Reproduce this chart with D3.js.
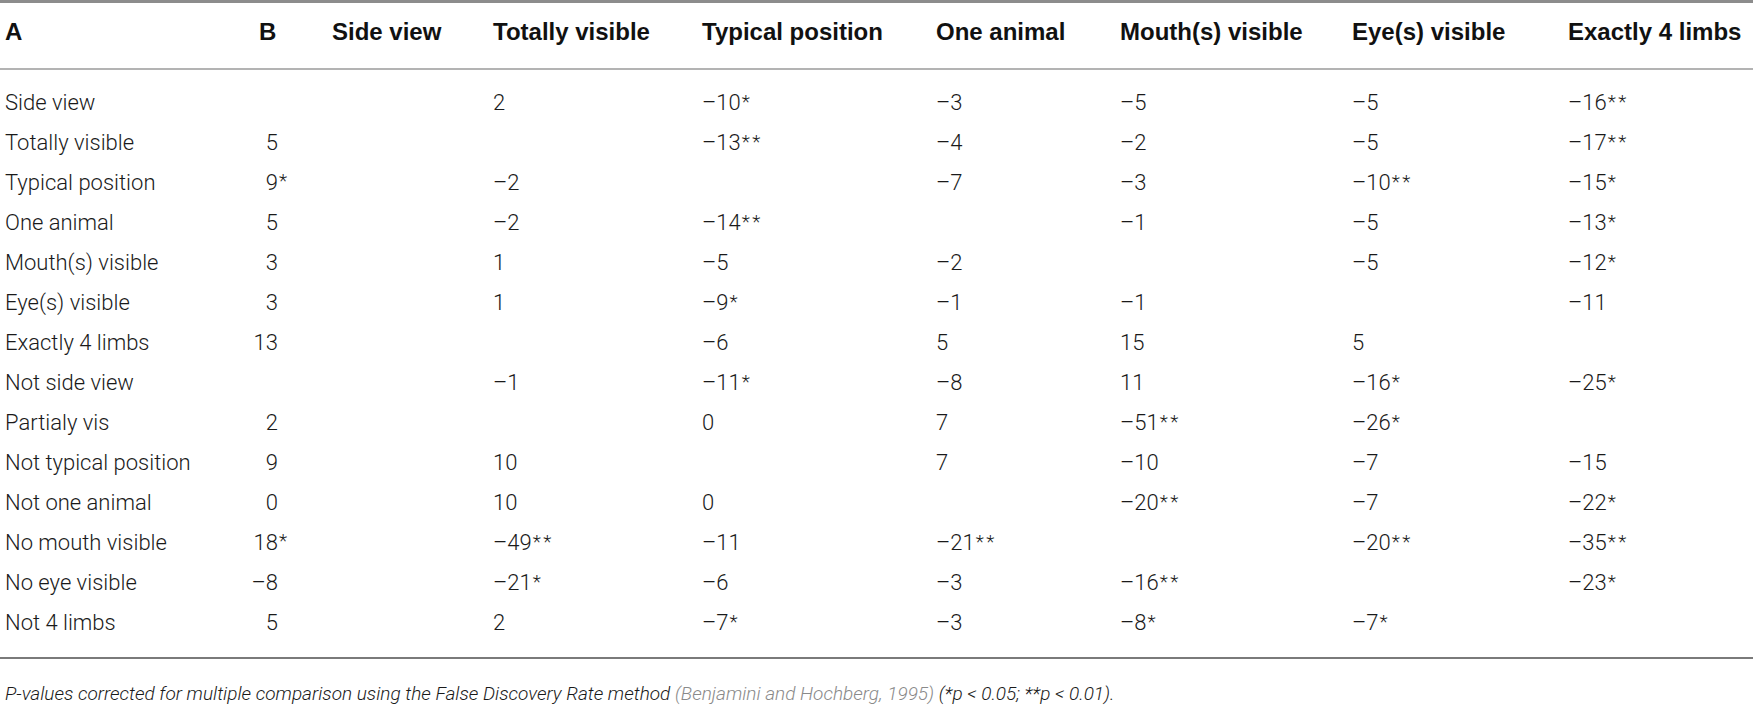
<!DOCTYPE html>
<html>
<head>
<meta charset="utf-8">
<script src="https://cdn.jsdelivr.net/npm/d3@7"></script>
<style>
  body { margin: 0; background: #fff; }
  svg text { fill: #1a1a1a; }
  .hdr { font-family: "Liberation Sans", Arial, sans-serif; font-weight: bold; font-size: 24px; fill: #111; }
  .cell { font-family: Roboto, "Liberation Sans", sans-serif; font-weight: 300; font-size: 22px; }
  .star { font-size: 19px; letter-spacing: 2.5px; }
  .note { font-family: Roboto, "Liberation Sans", sans-serif; font-weight: 300; font-style: italic; font-size: 19px; }
</style>
</head>
<body>
<script>
// table contents
let columns = ["Side view","Totally visible","Typical position","One animal","Mouth(s) visible","Eye(s) visible","Exactly 4 limbs"];
let rows = ["Side view","Totally visible","Typical position","One animal","Mouth(s) visible","Eye(s) visible","Exactly 4 limbs",
            "Not side view","Partialy vis","Not typical position","Not one animal","No mouth visible","No eye visible","Not 4 limbs"];
// null = empty cell
let values = [
  [null,2,-10,-3,-5,-5,-16],
  [5,null,-13,-4,-2,-5,-17],
  [9,-2,null,-7,-3,-10,-15],
  [5,-2,-14,null,-1,-5,-13],
  [3,1,-5,-2,null,-5,-12],
  [3,1,-9,-1,-1,null,-11],
  [13,null,-6,5,15,5,null],
  [null,-1,-11,-8,11,-16,-25],
  [2,null,0,7,-51,-26,null],
  [9,10,null,7,-10,-7,-15],
  [0,10,0,null,-20,-7,-22],
  [18,-49,-11,-21,null,-20,-35],
  [-8,-21,-6,-3,-16,null,-23],
  [5,2,-7,-3,-8,-7,null]
];
// number of asterisks (significance)
let stars = [
  [0,0,1,0,0,0,2],
  [0,0,2,0,0,0,2],
  [1,0,0,0,0,2,1],
  [0,0,2,0,0,0,1],
  [0,0,0,0,0,0,1],
  [0,0,1,0,0,0,0],
  [0,0,0,0,0,0,0],
  [0,0,1,0,0,1,1],
  [0,0,0,0,2,1,0],
  [0,0,0,0,0,0,0],
  [0,0,0,0,2,0,1],
  [1,2,0,2,0,2,2],
  [0,1,0,0,2,0,1],
  [0,0,1,0,1,1,0]
];
let footText = "P-values corrected for multiple comparison using the False Discovery Rate method ";
let citeText = "(Benjamini and Hochberg, 1995)";
let footEnd = " (*p < 0.05; **p < 0.01).";

let width = 1753, height = 706;
let colStart = [278, 493, 702, 936, 1120, 1352, 1568];   // layout: first col right-aligned on digits
let hdrStart = [332, 493, 702, 936, 1120, 1352, 1568];

let svg = d3.select("body").append("svg")
  .attr("width", width).attr("height", height);

let x = d3.scaleOrdinal().domain(columns).range(colStart);
let xh = d3.scaleOrdinal().domain(columns).range(hdrStart);
let y = d3.scalePoint().domain(rows).range([102, 622]);

function num(v) {
  return v < 0 ? "\u2013" + Math.abs(v) : String(v);
}

// rules
svg.append("line").attr("x1",0).attr("x2",width).attr("y1",1.5).attr("y2",1.5)
   .attr("stroke","#8c8c8c").attr("stroke-width",3);
svg.append("line").attr("x1",0).attr("x2",width).attr("y1",69).attr("y2",69)
   .attr("stroke","#9a9a9a").attr("stroke-width",1.6);
svg.append("line").attr("x1",0).attr("x2",width).attr("y1",658).attr("y2",658)
   .attr("stroke","#7a7a7a").attr("stroke-width",2);

// header
let hy = 32;
svg.append("text").attr("class","hdr").attr("x",5).attr("y",hy).attr("dy","0.35em").text("A");
svg.append("text").attr("class","hdr").attr("x",259).attr("y",hy).attr("dy","0.35em").text("B");
svg.selectAll("text.colhdr").data(columns).enter().append("text")
   .attr("class","hdr colhdr")
   .attr("x", d => xh(d))
   .attr("y", hy).attr("dy","0.35em")
   .text(d => d);

// row labels
svg.selectAll("text.rowlab").data(rows).enter().append("text")
   .attr("class","cell rowlab")
   .attr("x",5).attr("y", d => y(d)).attr("dy","0.35em")
   .text(d => d);

// cells
let cells = [];
rows.forEach(function(r, ri) {
  columns.forEach(function(c, ci) {
    if (values[ri][ci] !== null) {
      cells.push({row: r, col: c, ci: ci, v: values[ri][ci], s: stars[ri][ci]});
    }
  });
});

// first column: digits right-aligned, stars hang after
let first = cells.filter(d => d.ci === 0);
svg.selectAll("text.val0").data(first).enter().append("text")
   .attr("class","cell val0")
   .attr("x", d => x(d.col)).attr("y", d => y(d.row)).attr("dy","0.35em")
   .attr("text-anchor","end")
   .text(d => num(d.v));
svg.selectAll("text.star0").data(first.filter(d => d.s > 0)).enter().append("text")
   .attr("class","cell star")
   .attr("x", d => x(d.col) + 1).attr("y", d => y(d.row) - 2).attr("dy","0.35em")
   .text(d => "*".repeat(d.s));

let rest = svg.selectAll("text.val").data(cells.filter(d => d.ci > 0)).enter().append("text")
   .attr("class","cell val")
   .attr("x", d => x(d.col))
   .attr("y", d => y(d.row)).attr("dy","0.35em");
rest.append("tspan").text(d => num(d.v));
rest.filter(d => d.s > 0).append("tspan")
   .attr("class","star").attr("dx",1).attr("dy",-2)
   .text(d => "*".repeat(d.s));

// footnote
let foot = svg.append("text").attr("class","note").attr("x",5).attr("y",693).attr("dy","0.35em");
foot.append("tspan").text(footText);
foot.append("tspan").style("fill","#8a8a8a").text(citeText);
foot.append("tspan").text(footEnd);
</script>
</body>
</html>
